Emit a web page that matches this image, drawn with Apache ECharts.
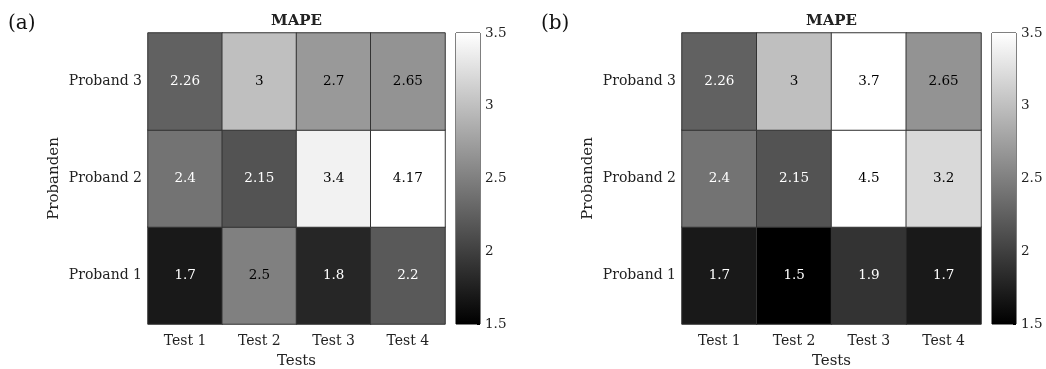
<!DOCTYPE html>
<html>
<head>
<meta charset="utf-8">
<script src="https://cdn.jsdelivr.net/npm/echarts@6/dist/echarts.min.js"></script>
<style>
  html, body { margin: 0; padding: 0; background: #fff; }
  #chart { width: 1046px; height: 369px; }
</style>
</head>
<body>
<div id="chart"></div>
<script>
// Categories
const tests = ['Test 1', 'Test 2', 'Test 3', 'Test 4'];
const probanden = ['Proband 1', 'Proband 2', 'Proband 3'];

// MAPE values, one row per Proband (1..3), one column per test
const mapeA = [
  [1.7, 2.5, 1.8, 2.2],
  [2.4, 2.15, 3.4, 4.17],
  [2.26, 3, 2.7, 2.65]
];
const mapeB = [
  [1.7, 1.5, 1.9, 1.7],
  [2.4, 2.15, 4.5, 3.2],
  [2.26, 3, 3.7, 2.65]
];

// Colour scale limits and colorbar ticks
const colorMin = 1.5;
const colorMax = 3.5;
const colorStep = 0.5;

const FONT = 'DejaVu Serif';

function cells(matrix) {
  const out = [];
  matrix.forEach((row, yi) => {
    row.forEach((v, xi) => {
      out.push({
        value: [xi, yi, v],
        label: { color: v >= 2.5 ? '#000' : '#fff' }
      });
    });
  });
  return out;
}

const panels = [
  { tag: '(a)', data: mapeA, grid: { left: 148, top: 33, width: 297, height: 291 }, bar: { left: 456, top: 33, width: 24, height: 291 }, tagX: 8 },
  { tag: '(b)', data: mapeB, grid: { left: 682, top: 33, width: 299, height: 291 }, bar: { left: 992, top: 33, width: 24, height: 291 }, tagX: 541 }
];

const grids = [], xAxes = [], yAxes = [], series = [], graphics = [];

panels.forEach((p) => {
  // heatmap grid
  grids.push(Object.assign({ show: false, containLabel: false, outerBoundsMode: 'none' }, p.grid));
  const gi = grids.length - 1;
  xAxes.push({
    type: 'category', gridIndex: gi, data: tests,
    axisLine: { show: false }, axisTick: { show: false }, splitLine: { show: false },
    axisLabel: { fontFamily: FONT, fontSize: 14, color: '#222', margin: 10 },
    name: 'Tests', nameLocation: 'middle', nameGap: 30,
    nameTextStyle: { fontFamily: FONT, fontSize: 15, color: '#222' }
  });
  yAxes.push({
    type: 'category', gridIndex: gi, data: probanden,
    axisLine: { show: false }, axisTick: { show: false }, splitLine: { show: false },
    axisLabel: { fontFamily: FONT, fontSize: 14, color: '#222', margin: 6 },
    name: 'Probanden', nameLocation: 'middle', nameGap: 86, nameRotate: 90,
    nameTextStyle: { fontFamily: FONT, fontSize: 15, color: '#222' }
  });
  series.push({
    type: 'heatmap', xAxisIndex: xAxes.length - 1, yAxisIndex: yAxes.length - 1,
    data: cells(p.data),
    itemStyle: { borderColor: '#333333', borderWidth: 1 },
    label: {
      show: true, fontFamily: FONT, fontSize: 13.5,
      formatter: (prm) => String(prm.value[2])
    },
    emphasis: { disabled: true },
    silent: true
  });

  // colorbar grid
  grids.push(Object.assign({ show: true, borderColor: '#000', borderWidth: 1, backgroundColor: 'transparent', containLabel: false, outerBoundsMode: 'none' }, p.bar));
  const bi = grids.length - 1;
  xAxes.push({
    type: 'category', gridIndex: bi, data: ['c'], show: false
  });
  yAxes.push({
    type: 'value', gridIndex: bi, position: 'right',
    min: colorMin, max: colorMax, interval: colorStep,
    axisLine: { show: false },
    axisTick: { show: true, inside: true, length: 3, lineStyle: { color: '#000' } },
    splitLine: { show: false },
    axisLabel: { fontFamily: FONT, fontSize: 13.5, color: '#222', margin: 5 }
  });
  series.push({
    type: 'custom', xAxisIndex: xAxes.length - 1, yAxisIndex: yAxes.length - 1,
    data: [[0, colorMin, colorMax]],
    silent: true,
    renderItem: (params, api) => {
      const top = api.coord([api.value(0), api.value(2)]);
      const bot = api.coord([api.value(0), api.value(1)]);
      const w = api.size([1, 0])[0];
      return {
        type: 'rect',
        shape: { x: top[0] - w / 2, y: top[1], width: w, height: bot[1] - top[1] },
        style: {
          fill: new echarts.graphic.LinearGradient(0, 0, 0, 1, [
            { offset: 0, color: '#ffffff' },
            { offset: 1, color: '#000000' }
          ])
        }
      };
    },
    z: 1
  });

  // panel tag and title
  graphics.push({
    type: 'text', left: p.tagX, top: 14,
    style: { text: p.tag, font: '20px "' + FONT + '"', fill: '#111' }
  });
  graphics.push({
    type: 'text', x: p.grid.left + p.grid.width / 2, y: 21,
    style: { text: 'MAPE', font: 'bold 15px "' + FONT + '"', fill: '#222', align: 'center', verticalAlign: 'middle' }
  });
});

const chart = echarts.init(document.getElementById('chart'), null, { renderer: 'canvas' });
chart.setOption({
  animation: false,
  backgroundColor: '#fff',
  grid: grids,
  xAxis: xAxes,
  yAxis: yAxes,
  visualMap: {
    show: false, type: 'continuous', seriesIndex: [0, 2], dimension: 2,
    min: colorMin, max: colorMax,
    inRange: { color: ['#000000', '#ffffff'] },
    outOfRange: { color: '#ffffff' }
  },
  series: series,
  graphic: graphics
});
</script>
</body>
</html>
